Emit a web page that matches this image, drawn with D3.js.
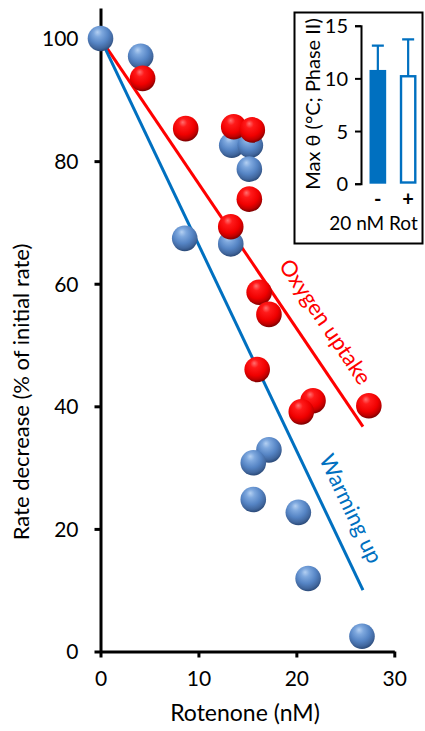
<!DOCTYPE html>
<html>
<head>
<meta charset="utf-8">
<script src="https://cdn.jsdelivr.net/npm/d3@7"></script>
<style>
  html, body { margin: 0; padding: 0; background: #fff; }
  svg { display: block; font-family: Lato, "Open Sans", sans-serif; }
</style>
</head>
<body>
<svg id="chart" width="425" height="731"></svg>
<script>
// Rotenone dose-response: warming-up rate vs oxygen uptake
const warmX = [0, 4.1, 13.4, 15.3, 15.2, 8.6, 13.3, 17.2, 15.6, 15.6, 20.2, 21.2, 26.7];
const warmY = [100, 97.1, 82.6, 82.6, 78.7, 67.4, 66.5, 32.9, 30.8, 24.8, 22.7, 11.9, 2.5];
const oxyX = [4.3, 8.7, 13.6, 15.5, 15.2, 13.3, 16.2, 17.2, 16.0, 21.7, 20.5, 27.4];
const oxyY = [93.5, 85.3, 85.6, 85.1, 73.8, 69.3, 58.6, 55.0, 46.0, 40.9, 39.1, 40.1];

// Regression lines (start and end)
const fitX = [0, 26.8];
const oxyFitY = [100, 36.7];
const warmFitY = [100, 10.0];

const xTicks = [0, 10, 20, 30];
const yTicks = [0, 20, 40, 60, 80, 100];

// Inset: max temperature, phase II
const insetGroups = ["-", "+"];
const insetMean = [10.8, 10.2];
const insetErr = [2.3, 3.5];
const insetTicks = [0, 5, 10, 15];

const BLUE = "#0070c0";
const RED = "#ff0000";

const svg = d3.select("#chart");
const defs = svg.append("defs");

function ballGradient(id, stops) {
  const g = defs.append("radialGradient")
    .attr("id", id).attr("cx", "45%").attr("cy", "35%").attr("r", "65%")
    .attr("fx", "38%").attr("fy", "25%");
  stops.forEach(s => g.append("stop").attr("offset", s[0]).attr("stop-color", s[1]));
}
ballGradient("ballBlue", [["0%", "#b4d0f2"], ["25%", "#7ea8de"], ["60%", "#5584c4"], ["85%", "#41679e"], ["100%", "#2b4a78"]]);
ballGradient("ballRed", [["0%", "#ff7070"], ["25%", "#ff1a1a"], ["65%", "#f00000"], ["85%", "#c00000"], ["100%", "#7a0000"]]);

const x = d3.scaleLinear().domain([0, 30]).range([100.5, 394.3]);
const y = d3.scaleLinear().domain([0, 105]).range([651.5, 7.9]);

// Axes
const xAxis = svg.append("g").attr("transform", `translate(0,${y(0)})`)
  .call(d3.axisBottom(x).tickValues(xTicks).tickSize(6).tickPadding(10).tickSizeOuter(0));
const yAxis = svg.append("g").attr("transform", `translate(${x(0)},0)`)
  .call(d3.axisLeft(y).tickValues(yTicks).tickSize(6).tickPadding(16).tickSizeOuter(0));

[xAxis, yAxis].forEach(a => {
  a.select(".domain").attr("stroke", "#000").attr("stroke-width", 3);
  a.selectAll(".tick line").attr("stroke", "#000").attr("stroke-width", 3);
  a.selectAll(".tick text").attr("fill", "#000").style("font-size", "21px").style("font-family", "Lato");
});
xAxis.selectAll(".tick text").attr("dy", "0.9em");
yAxis.selectAll(".tick text").attr("dy", "0.35em");

svg.append("text")
  .attr("x", 245).attr("y", 721)
  .attr("text-anchor", "middle").style("font-size", "23px").text("Rotenone (nM)");

svg.append("text")
  .attr("transform", `translate(29,392) rotate(-90)`)
  .attr("text-anchor", "middle").style("font-size", "22px").text("Rate decrease (% of initial rate)");

// Fit lines
svg.append("line")
  .attr("x1", x(fitX[0])).attr("y1", y(oxyFitY[0]))
  .attr("x2", x(fitX[1])).attr("y2", y(oxyFitY[1]))
  .attr("stroke", RED).attr("stroke-width", 3);
svg.append("line")
  .attr("x1", x(fitX[0])).attr("y1", y(warmFitY[0]))
  .attr("x2", x(fitX[1])).attr("y2", y(warmFitY[1]))
  .attr("stroke", BLUE).attr("stroke-width", 3);

// Line labels, rotated along their lines
function angleOf(fy) {
  const dx = x(fitX[1]) - x(fitX[0]);
  const dy = y(fy[1]) - y(fy[0]);
  return Math.atan2(dy, dx) * 180 / Math.PI;
}
svg.append("text")
  .attr("transform", `translate(319,326) rotate(${angleOf(oxyFitY)})`)
  .attr("text-anchor", "middle").attr("fill", RED).style("font-size", "22px").text("Oxygen uptake");
svg.append("text")
  .attr("transform", `translate(344,512) rotate(${angleOf(warmFitY)})`)
  .attr("text-anchor", "middle").attr("fill", BLUE).style("font-size", "22px").text("Warming up");

// Data spheres: blue first, red drawn over
const R = 12.8;
svg.append("g").selectAll("circle").data(warmX.map((v, i) => [v, warmY[i]]))
  .join("circle")
  .attr("cx", d => x(d[0])).attr("cy", d => y(d[1])).attr("r", R)
  .attr("fill", "url(#ballBlue)");
svg.append("g").selectAll("circle").data(oxyX.map((v, i) => [v, oxyY[i]]))
  .join("circle")
  .attr("cx", d => x(d[0])).attr("cy", d => y(d[1])).attr("r", R)
  .attr("fill", "url(#ballRed)");

// Inset panel
const inset = svg.append("g");
inset.append("rect")
  .attr("x", 294.5).attr("y", 12.5).attr("width", 128).attr("height", 231)
  .attr("fill", "#fff").attr("stroke", "#000").attr("stroke-width", 2);

const iy = d3.scaleLinear().domain([0, 15]).range([183.7, 25.7]);
const ix = d3.scaleBand().domain(insetGroups).range([368, 418]).paddingInner(0.45).paddingOuter(0.05);

const iAxis = inset.append("g").attr("transform", "translate(361,0)")
  .call(d3.axisLeft(iy).tickValues(insetTicks).tickSize(6).tickPadding(7).tickSizeOuter(6));
iAxis.select(".domain").attr("stroke", "#000").attr("stroke-width", 2);
iAxis.selectAll(".tick line").attr("stroke", "#000").attr("stroke-width", 2);
iAxis.selectAll(".tick text").attr("fill", "#000").attr("dy", "0.35em")
  .style("font-size", "20px").style("font-family", "Lato");

const bars = insetGroups.map((g, i) => ({ g, m: insetMean[i], e: insetErr[i], filled: i === 0 }));

// Error bars (upper only)
inset.selectAll(".err").data(bars).join("path")
  .attr("class", "err")
  .attr("d", d => {
    const cx = ix(d.g) + ix.bandwidth() / 2;
    return `M${cx},${iy(d.m)}V${iy(d.m + d.e)}M${cx - 6},${iy(d.m + d.e)}H${cx + 6}`;
  })
  .attr("stroke", BLUE).attr("stroke-width", 2.2).attr("fill", "none");

inset.selectAll(".bar").data(bars).join("rect")
  .attr("class", "bar")
  .attr("x", d => ix(d.g) + (d.filled ? 0 : 1.2))
  .attr("y", d => iy(d.m))
  .attr("width", d => ix.bandwidth() - (d.filled ? 0 : 2.4))
  .attr("height", d => iy(0) - iy(d.m) - (d.filled ? 0 : 1.2))
  .attr("fill", d => d.filled ? BLUE : "#fff")
  .attr("stroke", BLUE).attr("stroke-width", d => d.filled ? 0 : 2.4);

inset.selectAll(".grp").data(bars).join("text")
  .attr("class", "grp")
  .attr("x", d => ix(d.g) + ix.bandwidth() / 2).attr("y", 205.5)
  .attr("text-anchor", "middle").style("font-size", "20px").style("font-weight", "bold")
  .text(d => d.g);

inset.append("text")
  .attr("x", 373.5).attr("y", 229.5).attr("text-anchor", "middle")
  .style("font-size", "19px").text("20 nM Rot");

inset.append("text")
  .attr("transform", "translate(320,104) rotate(-90)")
  .attr("text-anchor", "middle").style("font-size", "20px").text("Max θ (°C; Phase II)");
</script>
</body>
</html>
